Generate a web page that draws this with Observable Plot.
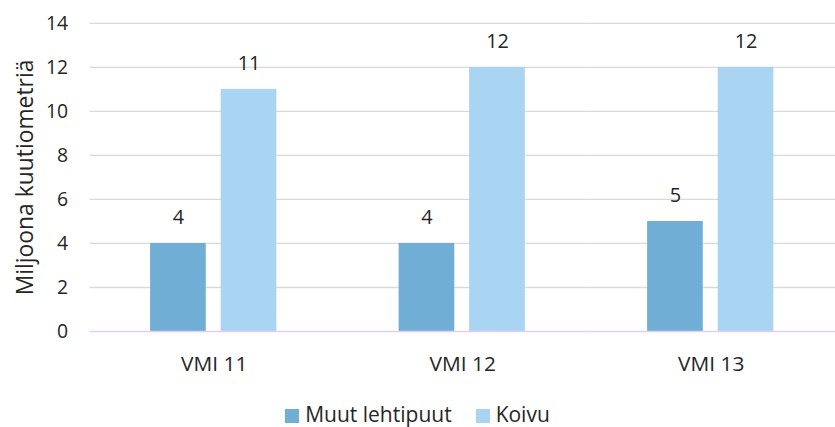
<!DOCTYPE html>
<html>
<head>
<meta charset="utf-8">
<script src="https://cdn.jsdelivr.net/npm/d3@7"></script>
<script src="https://cdn.jsdelivr.net/npm/@observablehq/plot@0.6"></script>
<style>
  html, body { margin: 0; padding: 0; background: #fff; overflow: hidden; }
  body { width: 835px; height: 427px; font-family: "Open Sans", sans-serif; color: #262626; }
  #chart svg { display: block; font-family: "Open Sans", sans-serif; }
  .legend { position: absolute; top: 402px; left: 0; width: 835px; display: flex; justify-content: center; align-items: center; font-size: 21px; line-height: 24px; }
  .legend .item { display: flex; align-items: center; margin: 0 12px; }
  .legend .sw { width: 14px; height: 14px; margin-right: 6px; display: inline-block; position: relative; top: 2px; }
</style>
</head>
<body>
<div id="chart"></div>
<script>
const groups = ["VMI 11", "VMI 12", "VMI 13"];
const seriesNames = ["Muut lehtipuut", "Koivu"];
const muutLehtipuut = [4, 4, 5];
const koivu = [11, 12, 12];
const yTicks = [0, 2, 4, 6, 8, 10, 12, 14];
const colors = ["#70aed5", "#a9d4f2"];
const yLabel = "Miljoona kuutiometriä";

const data = groups.flatMap((g, i) => [
  { group: g, series: seriesNames[0], value: muutLehtipuut[i] },
  { group: g, series: seriesNames[1], value: koivu[i] }
]);

const chart = Plot.plot({
  width: 840,
  height: 390,
  marginLeft: 90,
  marginRight: 0,
  marginTop: 23,
  marginBottom: 57,
  style: { fontFamily: "Open Sans, sans-serif", color: "#262626", background: "#fff" },
  fx: { domain: groups, padding: 0, label: null },
  x: { domain: seriesNames, paddingInner: 0.211, paddingOuter: 0.866, axis: null },
  y: { domain: [0, 14], label: null },
  color: { domain: seriesNames, range: colors },
  marks: [
    Plot.ruleY(yTicks.filter(t => t > 0), { stroke: "#d9d9d9", strokeWidth: 1.3 }),
    Plot.barY(data, { fx: "group", x: "series", y: "value", fill: "series" }),
    Plot.text(data, { fx: "group", x: "series", y: "value", text: d => String(d.value), dy: -26, fontSize: 20, fill: "#262626" }),
    Plot.ruleY([0], { stroke: "#e3cdf5", strokeWidth: 1.5 }),
    Plot.axisY(yTicks, { tickSize: 0, tickPadding: 22, fontSize: 19.5, label: null }),
    Plot.text([yLabel], { fx: () => groups[0], text: d => d, frameAnchor: "left", textAnchor: "middle", lineAnchor: "middle", rotate: -90, dx: -65, fontSize: 23, fill: "#262626" }),
    Plot.axisFx({ anchor: "bottom", tickSize: 0, tickPadding: 25, fontSize: 21, label: null })
  ]
});
document.getElementById("chart").appendChild(chart);

const legend = document.createElement("div");
legend.className = "legend";
seriesNames.forEach((s, i) => {
  const item = document.createElement("span");
  item.className = "item";
  const sw = document.createElement("span");
  sw.className = "sw";
  sw.style.background = colors[i];
  item.appendChild(sw);
  item.appendChild(document.createTextNode(s));
  legend.appendChild(item);
});
document.body.appendChild(legend);
</script>
</body>
</html>
